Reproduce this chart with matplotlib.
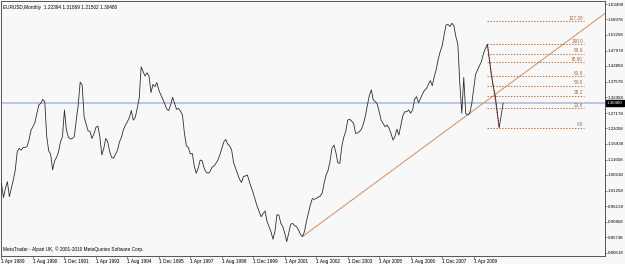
import matplotlib
matplotlib.use('Agg')
import matplotlib.pyplot as plt
import matplotlib.transforms as mtransforms

plt.rcParams['font.family'] = ['Liberation Sans', 'DejaVu Sans']

# ------------------------------------  data  ---------------------------------------------------------
# monthly closes, Apr 1989 .. Jul 2010
closes = [
    1.037, 0.990, 1.020, 1.043, 0.993, 1.020, 1.048, 1.082, 1.143, 1.154,
    1.148, 1.157, 1.157, 1.160, 1.182, 1.215, 1.226, 1.240, 1.271, 1.299,
    1.304, 1.317, 1.310, 1.193, 1.146, 1.134, 1.082, 1.112, 1.124, 1.143,
    1.176, 1.193, 1.282, 1.215, 1.191, 1.185, 1.187, 1.193, 1.248, 1.298,
    1.375, 1.365, 1.260, 1.235, 1.213, 1.210, 1.187, 1.202, 1.224, 1.228,
    1.193, 1.132, 1.154, 1.187, 1.176, 1.143, 1.124, 1.121, 1.135, 1.148,
    1.176, 1.191, 1.217, 1.231, 1.243, 1.257, 1.280, 1.248, 1.257, 1.287,
    1.321, 1.426, 1.410, 1.395, 1.406, 1.395, 1.340, 1.367, 1.360, 1.373,
    1.348, 1.332, 1.318, 1.302, 1.285, 1.280, 1.299, 1.324, 1.304, 1.284,
    1.287, 1.278, 1.265, 1.204, 1.162, 1.157, 1.135, 1.137, 1.095, 1.071,
    1.088, 1.115, 1.113, 1.088, 1.075, 1.071, 1.076, 1.091, 1.095, 1.104,
    1.115, 1.132, 1.154, 1.175, 1.184, 1.168, 1.162, 1.148, 1.106, 1.088,
    1.069, 1.051, 1.040, 1.060, 1.062, 1.065, 1.043, 1.024, 1.004, 0.982,
    0.960, 0.943, 0.926, 0.937, 0.945, 0.910, 0.893, 0.876, 0.851, 0.876,
    0.932, 0.932, 0.904, 0.893, 0.871, 0.843, 0.871, 0.901, 0.904, 0.896,
    0.893, 0.882, 0.867, 0.860, 0.876, 0.910, 0.937, 0.965, 0.986, 0.984,
    0.987, 0.991, 0.995, 1.004, 1.037, 1.065, 1.080, 1.110, 1.154, 1.165,
    1.140, 1.106, 1.104, 1.160, 1.191, 1.210, 1.248, 1.251, 1.245, 1.237,
    1.204, 1.205, 1.210, 1.218, 1.236, 1.262, 1.298, 1.330, 1.349, 1.315,
    1.310, 1.302, 1.276, 1.248, 1.237, 1.226, 1.232, 1.221, 1.204, 1.182,
    1.193, 1.218, 1.198, 1.230, 1.262, 1.276, 1.276, 1.282, 1.271, 1.282,
    1.318, 1.326, 1.306, 1.320, 1.335, 1.347, 1.353, 1.367, 1.380, 1.363,
    1.393, 1.417, 1.451, 1.476, 1.495, 1.532, 1.565, 1.567, 1.560, 1.571,
    1.562, 1.526, 1.500, 1.370, 1.271, 1.390, 1.270, 1.265, 1.270, 1.300,
    1.350, 1.400, 1.415, 1.430, 1.443, 1.470, 1.487, 1.501, 1.450, 1.400,
    1.360, 1.330, 1.275, 1.223, 1.262, 1.3048,
]

date_labels = ['1 Apr 1989', '1 Aug 1990', '1 Dec 1991', '1 Apr 1993', '1 Aug 1994',
               '1 Dec 1995', '1 Apr 1997', '1 Aug 1998', '1 Dec 1999', '1 Apr 2001',
               '1 Aug 2002', '1 Dec 2003', '1 Apr 2005', '1 Aug 2006', '1 Dec 2007',
               '1 Apr 2009']
label_step = 16     # months between date labels

price_ticks = [0.80618, 0.85738, 0.90858, 0.96138, 1.01258, 1.06538, 1.11658, 1.16938,
               1.22058, 1.27178, 1.32458, 1.37578, 1.42858, 1.47978, 1.53258, 1.58378,
               1.63498]

last_price = 1.30480
title_text = "EURUSD,Monthly  1.22394 1.31869 1.21502 1.30480"
footer_text = "MetaTrader - Alpari UK, \u00a9 2001-2010 MetaQuotes Software Corp."

# fibonacci retracement (high -> low)
fib_levels = [0.0, 23.6, 38.2, 50.0, 61.8, 78.6, 88.6, 100.0, 127.2]
fib_labels = ['0.0', '23.6', '38.2', '50.0', '61.8', '78.60', '88.6', '100.0', '127.20']
fib_high, fib_low = 1.5010, 1.2220
fib_high_month, fib_low_month, fib_end_month = 247, 253, 296

# trend line anchors (month index, price)
trend_months = [153, 238]
trend_prices = [0.860, 1.271]

# ------------------------------------  figure  ---------------------------------------------------------
bg = '#f8f8f8'
fig = plt.figure(figsize=(6.25, 2.64), dpi=100, facecolor=bg)
ax = fig.add_axes([1 / 625, 8.5 / 264, 604 / 625, 254.5 / 264], facecolor=bg)

x_min, x_max = -0.25, 306.8
ax.set_xlim(x_min, x_max)
ax.set_ylim(0.7968, 1.6451)

months = list(range(len(closes)))

# current price line
ax.axhline(last_price, color='#b4c6dc', lw=1.3, zorder=1)

# trend line (ray to the right edge)
slope = (trend_prices[1] - trend_prices[0]) / (trend_months[1] - trend_months[0])
ax.plot([trend_months[0], x_max],
        [trend_prices[0], trend_prices[0] + slope * (x_max - trend_months[0])],
        color='#d49a70', lw=0.8, zorder=2)

# fibonacci levels
for lvl, lab in zip(fib_levels, fib_labels):
    price = fib_low + (fib_high - fib_low) * lvl / 100
    ax.plot([fib_high_month, fib_end_month], [price, price],
            color='#c27a48', lw=0.75, ls=(0, (1.4, 1.4)), zorder=2)
    ax.text(fib_end_month - 0.5, price + 0.002, lab, ha='right', va='bottom',
            fontsize=3.4, color='#a8683a')

ax.plot([fib_high_month, fib_low_month], [fib_high, fib_low],
        color='red', lw=0.7, ls=(0, (1.4, 1.4)), zorder=3)

# price line
ax.plot(months, closes, color='#2e2e2e', lw=0.6, zorder=4)

# texts
ax.text(2 / 604, 0.985, title_text, transform=ax.transAxes, ha='left', va='top',
        fontsize=3.4, color='black')
ax.text(2 / 604, 0.012, footer_text, transform=ax.transAxes, ha='left', va='bottom',
        fontsize=3.4, color='black')

# axes / ticks
ax.yaxis.tick_right()
ax.set_yticks(price_ticks)
ax.set_yticklabels([f"{v:.5f}" for v in price_ticks])
ax.set_xticks([label_step * i for i in range(len(date_labels))])
ax.set_xticklabels(date_labels, ha='left')
ax.tick_params(axis='y', length=1.5, width=0.5, pad=0.5, labelsize=3.2, color='#555555')
ax.tick_params(axis='x', length=2, width=0.5, pad=0.8, labelsize=3.4, color='#555555')
for s in ax.spines.values():
    s.set_color('#555555')
    s.set_linewidth(0.7)

# current price box on the scale
trans = mtransforms.blended_transform_factory(ax.transAxes, ax.transData)
ax.text(1.0035, last_price, f"{last_price:.5f}", transform=trans, ha='left', va='center',
        fontsize=3.2, color='white',
        bbox=dict(boxstyle='square,pad=0.15', fc='black', ec='black'))

fig.savefig('out.png', dpi=100, facecolor=bg)
